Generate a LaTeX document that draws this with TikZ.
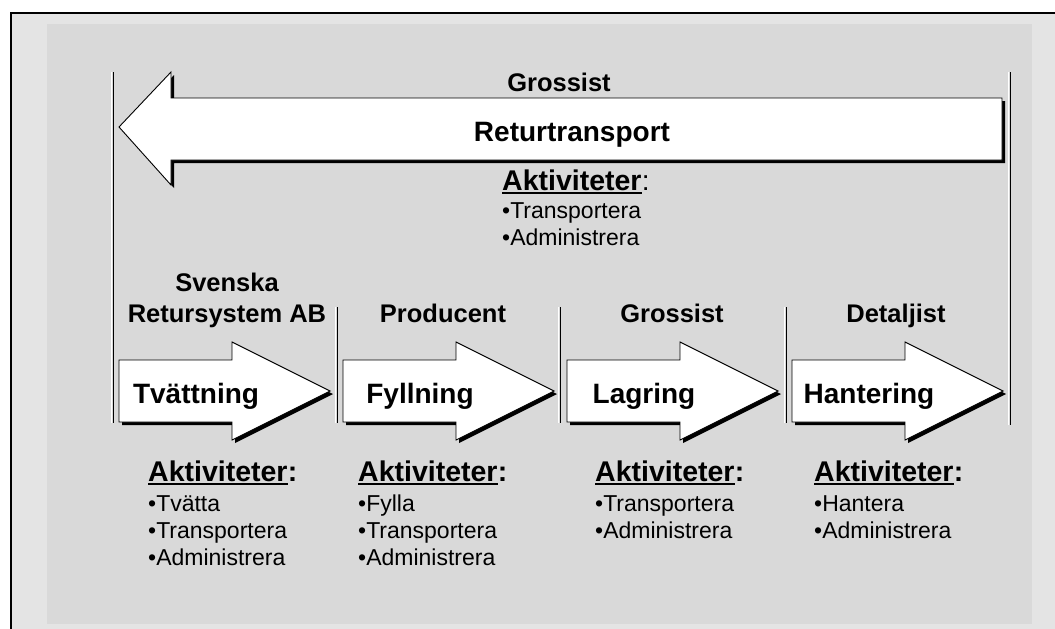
\documentclass[tikz,border=0pt]{standalone}
\usepackage{fontspec}
\setmainfont{Liberation Sans}
\usetikzlibrary{positioning}
\definecolor{outergray}{RGB}{228,228,228}
\definecolor{innergray}{RGB}{217,217,217}
% one stage arrow, left end at x = #1
\newcommand{\stagepath}[1]{(#1,360) -- (#1+113,360) -- (#1+113,342) -- (#1+211,391) -- (#1+113,440) -- (#1+113,422) -- (#1,422) -- cycle}

\begin{document}
\begin{tikzpicture}[x=1pt,y=-1pt,
        blockarrow/.style = {fill=white, draw=black, line width=0.9pt},
        arrowshadow/.style = {fill=black, shift={(3,3)}},
        stage/.style = {font=\fontsize{28}{30}\selectfont\bfseries, anchor=base},
        actor/.style = {font=\fontsize{25.5}{31}\selectfont\bfseries, anchor=base, align=center},
        acthead/.style = {font=\fontsize{28.5}{30}\selectfont\bfseries, anchor=base west, inner sep=0pt},
        actlist/.style = {font=\fontsize{23}{27}\selectfont, anchor=base west, align=left, inner sep=0pt},
        divider/.style = {line width=1pt}]
        \useasboundingbox (0,0) rectangle (1055,629);

        % background and frame
        \fill[white] (0,0) rectangle (1055,629);
        \fill[outergray] (11,13) rectangle (1070,640);
        \draw[line width=1.6pt] (11,640) -- (11,13) -- (1070,13);
        \fill[innergray] (47,24) rectangle (1032,624);

        % dividers
        \draw[divider, white] (111,72) -- (111,423);
        \draw[divider] (113,72) -- (113,423);
        \draw[divider, white] (335,307) -- (335,423);
        \draw[divider] (337,307) -- (337,423);
        \draw[divider, white] (558,307) -- (558,423);
        \draw[divider] (560,307) -- (560,423);
        \draw[divider, white] (784,307) -- (784,423);
        \draw[divider] (786,307) -- (786,423);
        \draw[divider, white] (1008,72) -- (1008,425);
        \draw[divider] (1010,72) -- (1010,425);

        % return arrow
        \fill[arrowshadow] (119,127) -- (171,72) -- (171,98) -- (1002,98) -- (1002,160) -- (171,160) -- (171,185) -- cycle;
        \draw[blockarrow] (119,127) -- (171,72) -- (171,98) -- (1002,98) -- (1002,160) -- (171,160) -- (171,185) -- cycle;

        % stage arrows
        \fill[arrowshadow] \stagepath{119};
        \draw[blockarrow] \stagepath{119};
        \fill[arrowshadow] \stagepath{343};
        \draw[blockarrow] \stagepath{343};
        \fill[arrowshadow] \stagepath{567};
        \draw[blockarrow] \stagepath{567};
        \fill[arrowshadow] \stagepath{792};
        \draw[blockarrow] \stagepath{792};

        % top part
        \node[actor] (topactor) at (559,91) {Grossist};
        \node[stage] (retur) at (572,141) {Returtransport};
        \node[acthead] (aktT) at (502,190) {Aktiviteter};
        \node[acthead, font=\fontsize{28}{30}\selectfont] (aktTc) at (aktT.base east) {:};
        \draw[line width=1.4pt] ([yshift=-3pt]aktT.base west) -- ([yshift=-3pt]aktT.base east);
        \node[actlist] (listT) at (502,245) {•Transportera\\•Administrera};

        % actors
        \node[actor] (srs) at (227,322) {Svenska\\Retursystem AB};
        \node[actor] (prod) at (443,322) {Producent};
        \node[actor] (gross) at (672,322) {Grossist};
        \node[actor] (detalj) at (896,322) {Detaljist};

        % stages
        \node[stage] (tvatt) at (196,403) {Tvättning};
        \node[stage] (fyll) at (420,403) {Fyllning};
        \node[stage] (lager) at (644,403) {Lagring};
        \node[stage] (hant) at (869,403) {Hantering};

        % activities
        \node[acthead] (akt1) at (148,481) {Aktiviteter};
        \node[acthead] (akt1c) at (akt1.base east) {:};
        \draw[line width=1.4pt] ([yshift=-3pt]akt1.base west) -- ([yshift=-3pt]akt1.base east);
        \node[actlist] (list1) at (148,565) {•Tvätta\\•Transportera\\•Administrera};

        \node[acthead] (akt2) at (358,481) {Aktiviteter};
        \node[acthead] (akt2c) at (akt2.base east) {:};
        \draw[line width=1.4pt] ([yshift=-3pt]akt2.base west) -- ([yshift=-3pt]akt2.base east);
        \node[actlist] (list2) at (358,565) {•Fylla\\•Transportera\\•Administrera};

        \node[acthead] (akt3) at (595,481) {Aktiviteter};
        \node[acthead] (akt3c) at (akt3.base east) {:};
        \draw[line width=1.4pt] ([yshift=-3pt]akt3.base west) -- ([yshift=-3pt]akt3.base east);
        \node[actlist] (list3) at (595,538) {•Transportera\\•Administrera};

        \node[acthead] (akt4) at (814,481) {Aktiviteter};
        \node[acthead] (akt4c) at (akt4.base east) {:};
        \draw[line width=1.4pt] ([yshift=-3pt]akt4.base west) -- ([yshift=-3pt]akt4.base east);
        \node[actlist] (list4) at (814,538) {•Hantera\\•Administrera};
\end{tikzpicture}
\end{document}
